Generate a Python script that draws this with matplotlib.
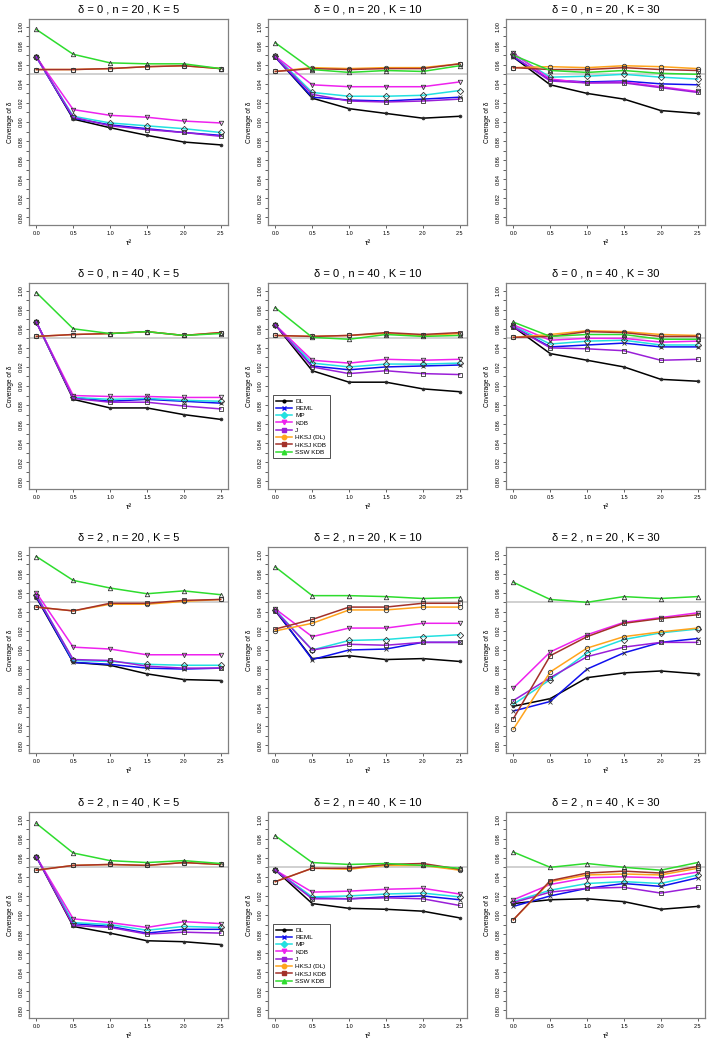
import matplotlib
matplotlib.use("Agg")
import matplotlib.pyplot as plt
from matplotlib.lines import Line2D
from matplotlib.ticker import MultipleLocator, FormatStrFormatter

plt.rcParams['font.family'] = ['Liberation Sans', 'DejaVu Sans']

# x values (tau^2) and panel settings, row by row
tau2 = [0.0, 0.5, 1.0, 1.5, 2.0, 2.5]
panel_delta = [0, 0, 0, 0, 0, 0, 2, 2, 2, 2, 2, 2]
panel_n = [20, 20, 20, 40, 40, 40, 20, 20, 20, 40, 40, 40]
panel_K = [5, 10, 30, 5, 10, 30, 5, 10, 30, 5, 10, 30]

# coverage per method, one row per panel
DL = [
    [0.969, 0.903, 0.894, 0.886, 0.879, 0.876],
    [0.968, 0.925, 0.914, 0.909, 0.904, 0.906],
    [0.968, 0.939, 0.930, 0.924, 0.912, 0.909],
    [0.967, 0.886, 0.877, 0.877, 0.870, 0.865],
    [0.964, 0.916, 0.904, 0.904, 0.897, 0.894],
    [0.962, 0.934, 0.927, 0.920, 0.907, 0.905],
    [0.955, 0.887, 0.884, 0.875, 0.869, 0.868],
    [0.941, 0.891, 0.894, 0.890, 0.891, 0.888],
    [0.841, 0.849, 0.871, 0.876, 0.878, 0.875],
    [0.961, 0.888, 0.881, 0.873, 0.872, 0.869],
    [0.947, 0.912, 0.907, 0.906, 0.904, 0.897],
    [0.912, 0.916, 0.917, 0.914, 0.906, 0.909],
]
REML = [
    [0.968, 0.904, 0.897, 0.893, 0.889, 0.886],
    [0.968, 0.926, 0.923, 0.922, 0.924, 0.926],
    [0.968, 0.944, 0.942, 0.943, 0.940, 0.939],
    [0.967, 0.888, 0.884, 0.886, 0.884, 0.882],
    [0.964, 0.921, 0.917, 0.920, 0.921, 0.922],
    [0.962, 0.941, 0.943, 0.945, 0.941, 0.941],
    [0.956, 0.887, 0.885, 0.881, 0.880, 0.881],
    [0.942, 0.890, 0.900, 0.901, 0.908, 0.908],
    [0.836, 0.846, 0.880, 0.897, 0.908, 0.912],
    [0.961, 0.891, 0.888, 0.881, 0.885, 0.885],
    [0.947, 0.918, 0.917, 0.919, 0.920, 0.916],
    [0.909, 0.920, 0.928, 0.933, 0.930, 0.939],
]
MP = [
    [0.968, 0.906, 0.899, 0.896, 0.893, 0.889],
    [0.969, 0.931, 0.927, 0.927, 0.928, 0.933],
    [0.971, 0.947, 0.948, 0.950, 0.947, 0.945],
    [0.967, 0.888, 0.886, 0.887, 0.885, 0.884],
    [0.964, 0.924, 0.920, 0.923, 0.923, 0.924],
    [0.963, 0.944, 0.947, 0.948, 0.943, 0.943],
    [0.958, 0.889, 0.888, 0.885, 0.884, 0.884],
    [0.942, 0.900, 0.910, 0.911, 0.914, 0.916],
    [0.843, 0.869, 0.897, 0.911, 0.918, 0.922],
    [0.961, 0.892, 0.890, 0.884, 0.888, 0.887],
    [0.947, 0.919, 0.920, 0.922, 0.923, 0.919],
    [0.914, 0.926, 0.933, 0.935, 0.933, 0.942],
]
KDB = [
    [0.968, 0.913, 0.907, 0.905, 0.901, 0.899],
    [0.969, 0.939, 0.937, 0.937, 0.937, 0.942],
    [0.972, 0.945, 0.941, 0.942, 0.937, 0.932],
    [0.967, 0.890, 0.889, 0.889, 0.888, 0.888],
    [0.964, 0.927, 0.924, 0.928, 0.927, 0.928],
    [0.964, 0.948, 0.950, 0.950, 0.946, 0.947],
    [0.960, 0.903, 0.901, 0.895, 0.895, 0.895],
    [0.943, 0.914, 0.923, 0.923, 0.928, 0.928],
    [0.860, 0.898, 0.916, 0.929, 0.934, 0.939],
    [0.961, 0.896, 0.892, 0.887, 0.893, 0.891],
    [0.947, 0.924, 0.925, 0.927, 0.928, 0.922],
    [0.916, 0.932, 0.939, 0.940, 0.939, 0.945],
]
J = [
    [0.968, 0.905, 0.896, 0.892, 0.889, 0.885],
    [0.968, 0.929, 0.922, 0.921, 0.922, 0.924],
    [0.969, 0.943, 0.941, 0.941, 0.936, 0.931],
    [0.967, 0.887, 0.883, 0.883, 0.879, 0.876],
    [0.964, 0.920, 0.913, 0.916, 0.913, 0.912],
    [0.962, 0.940, 0.939, 0.937, 0.927, 0.928],
    [0.957, 0.890, 0.889, 0.883, 0.881, 0.881],
    [0.941, 0.900, 0.906, 0.905, 0.908, 0.908],
    [0.847, 0.871, 0.893, 0.903, 0.908, 0.908],
    [0.961, 0.889, 0.887, 0.880, 0.882, 0.881],
    [0.947, 0.917, 0.917, 0.918, 0.917, 0.910],
    [0.913, 0.924, 0.928, 0.929, 0.923, 0.929],
]
HKSJ_DL = [
    [0.955, 0.955, 0.956, 0.958, 0.959, 0.956],
    [0.953, 0.957, 0.956, 0.957, 0.957, 0.961],
    [0.957, 0.958, 0.957, 0.959, 0.958, 0.956],
    [0.952, 0.954, 0.955, 0.957, 0.953, 0.956],
    [0.953, 0.952, 0.953, 0.955, 0.953, 0.955],
    [0.951, 0.954, 0.958, 0.957, 0.954, 0.953],
    [0.945, 0.941, 0.948, 0.948, 0.951, 0.953],
    [0.920, 0.928, 0.942, 0.942, 0.945, 0.945],
    [0.817, 0.877, 0.902, 0.914, 0.919, 0.923],
    [0.947, 0.952, 0.953, 0.952, 0.955, 0.953],
    [0.935, 0.949, 0.948, 0.952, 0.952, 0.947],
    [0.895, 0.935, 0.942, 0.943, 0.942, 0.949],
]
HKSJ_KDB = [
    [0.955, 0.955, 0.956, 0.958, 0.959, 0.956],
    [0.953, 0.956, 0.955, 0.956, 0.956, 0.961],
    [0.957, 0.955, 0.955, 0.957, 0.955, 0.954],
    [0.952, 0.954, 0.955, 0.957, 0.953, 0.956],
    [0.953, 0.952, 0.953, 0.956, 0.954, 0.956],
    [0.951, 0.952, 0.957, 0.956, 0.952, 0.952],
    [0.945, 0.941, 0.949, 0.949, 0.952, 0.953],
    [0.922, 0.932, 0.945, 0.945, 0.949, 0.949],
    [0.828, 0.894, 0.914, 0.928, 0.933, 0.937],
    [0.947, 0.952, 0.953, 0.952, 0.955, 0.953],
    [0.935, 0.949, 0.949, 0.953, 0.954, 0.948],
    [0.895, 0.936, 0.944, 0.946, 0.944, 0.951],
]
SSW_KDB = [
    [0.997, 0.971, 0.962, 0.961, 0.961, 0.956],
    [0.983, 0.955, 0.952, 0.954, 0.953, 0.959],
    [0.970, 0.954, 0.952, 0.954, 0.951, 0.950],
    [0.998, 0.960, 0.955, 0.957, 0.953, 0.955],
    [0.982, 0.951, 0.949, 0.954, 0.952, 0.953],
    [0.967, 0.952, 0.954, 0.954, 0.949, 0.949],
    [0.998, 0.973, 0.965, 0.959, 0.962, 0.958],
    [0.987, 0.957, 0.957, 0.956, 0.954, 0.955],
    [0.971, 0.953, 0.950, 0.956, 0.954, 0.956],
    [0.996, 0.965, 0.957, 0.955, 0.957, 0.954],
    [0.983, 0.955, 0.953, 0.954, 0.952, 0.949],
    [0.966, 0.950, 0.954, 0.950, 0.947, 0.955],
]

methods = ["DL", "REML", "MP", "KDB", "J", "HKSJ (DL)", "HKSJ KDB", "SSW KDB"]
series = [DL, REML, MP, KDB, J, HKSJ_DL, HKSJ_KDB, SSW_KDB]
colors = ["black", "#1010ee", "#22e0e0", "#ee22ee", "#9a1fd8", "#ffa41c", "#a3312a", "#2edc2e"]
markers = [".", "x", "D", "v", "s", "o", "s", "^"]

W, H = 709, 1042
fig = plt.figure(figsize=(W / 100, H / 100), dpi=100)

col_left = [29, 268, 506]
row_top = [19, 283, 547, 812]
ax_w, ax_h = 199, 206

for i in range(12):
    r, c = divmod(i, 3)
    l, t = col_left[c], row_top[r]
    ax = fig.add_axes([l / W, 1 - (t + ax_h) / H, ax_w / W, ax_h / H])
    ax.axhline(0.95, color="#c8c8c8", lw=1.2, zorder=1)
    # draw back to front so black/blue sit on top like the original
    for k in range(len(methods) - 1, -1, -1):
        ax.plot(tau2, series[k][i], color=colors[k], lw=1.1, zorder=2 + k * 0.01,
                marker=markers[k], ms=3.2 if markers[k] != "." else 4,
                mfc="none" if markers[k] != "." else "#222222",
                mec="#333333", mew=0.6)
    ax.set_xlim(-0.1, 2.6)
    ax.set_ylim(0.792, 1.008)
    ax.set_xticks(tau2)
    ax.xaxis.set_major_formatter(FormatStrFormatter("%.1f"))
    ax.yaxis.set_major_locator(MultipleLocator(0.02))
    ax.yaxis.set_minor_locator(MultipleLocator(0.01))
    ax.yaxis.set_major_formatter(FormatStrFormatter("%.2f"))
    ax.tick_params(which="both", length=2.5, width=0.6, color="#444444",
                   labelsize=4.0, pad=1.5)
    ax.tick_params(axis="y", labelrotation=90)
    for lab in ax.get_yticklabels():
        lab.set_va("center")
    for s in ax.spines.values():
        s.set_color("#808080")
        s.set_linewidth(0.9)
    ax.set_title("δ = %d , n = %d , K = %d" % (panel_delta[i], panel_n[i], panel_K[i]),
                 fontsize=8, pad=5)
    ax.set_ylabel("Coverage of δ", fontsize=4.8, labelpad=3)
    ax.set_xlabel("τ²", fontsize=6, labelpad=3)

    if c == 1 and r in (1, 3):
        handles = [Line2D([], [], color=colors[k], lw=1.1, marker=markers[k],
                          ms=3.2 if markers[k] != "." else 4, mfc=colors[k], mec=colors[k])
                   for k in range(len(methods))]
        leg = ax.legend(handles, methods, loc="upper left", bbox_to_anchor=(0.025, 0.455),
                        fontsize=4.6, frameon=True, fancybox=False, handlelength=2.4,
                        borderpad=0.5, labelspacing=0.28, handletextpad=0.6,
                        borderaxespad=0)
        leg.get_frame().set_edgecolor("black")
        leg.get_frame().set_linewidth(0.6)

fig.savefig("out.png", dpi=100)
